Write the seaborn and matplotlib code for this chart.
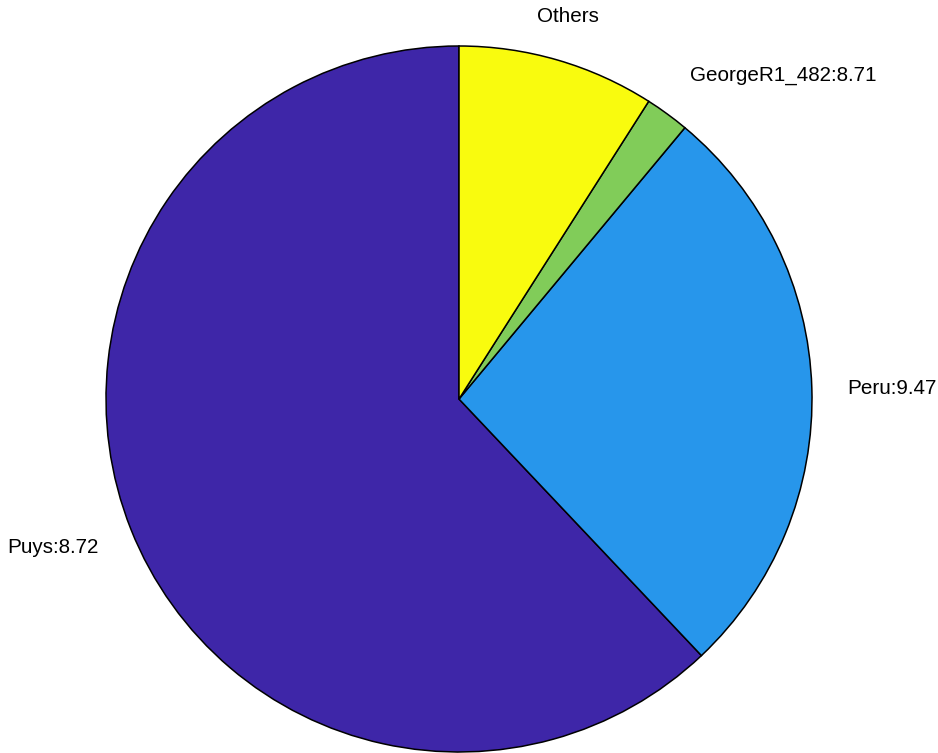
import numpy as np
import matplotlib
matplotlib.use("Agg")
import matplotlib.pyplot as plt
import seaborn as sns

# slice data (counter-clockwise from 12 o'clock)
names = ["Puys", "Peru", "GeorgeR1_482", "Others"]
shares = [62.05, 26.90, 2.02, 9.03]
scores = ["8.72", "9.47", "8.71", None]
colors = ["#3E26A8", "#2796EB", "#81CC59", "#F9FB0E"]

sns.set_theme(style="white")
plt.rcParams['font.family'] = ['Liberation Sans', 'DejaVu Sans']

fig = plt.figure(figsize=(9.38, 7.53), dpi=100)
ax = fig.add_axes([0, 0, 1, 1])
ax.axis("off")

wedges, _ = ax.pie(shares, colors=colors, startangle=90, counterclock=True,
                   radius=1.0, center=(0, 0),
                   wedgeprops=dict(edgecolor="black", linewidth=1.1, antialiased=True))
for w in wedges:
    w.set_clip_on(False)

# same pixel scale on both axes (353 px per unit, centre at 459,399 from top-left)
ax.set_xlim(-459 / 353, (938 - 459) / 353)
ax.set_ylim(-(753 - 399) / 353, 399 / 353)

# labels placed at 1.1 * radius on the slice bisector, MATLAB style
align = {"Puys": ("right", "center", (0, -3.5)),
         "Peru": ("left", "center", (0, -1.5)),
         "GeorgeR1_482": ("left", "bottom", (1.5, 0)),
         "Others": ("center", "bottom", (0, 0))}
for w, name, sc in zip(wedges, names, scores):
    mid = np.deg2rad((w.theta1 + w.theta2) / 2)
    txt = name if sc is None else "{}:{}".format(name, sc)
    ha, va, off = align[name]
    ax.annotate(txt, (1.1 * np.cos(mid), 1.1 * np.sin(mid)), xytext=off,
                textcoords="offset points", ha=ha, va=va,
                fontsize=14.9, color="black", annotation_clip=False)

plt.savefig("out.png", dpi=100)
